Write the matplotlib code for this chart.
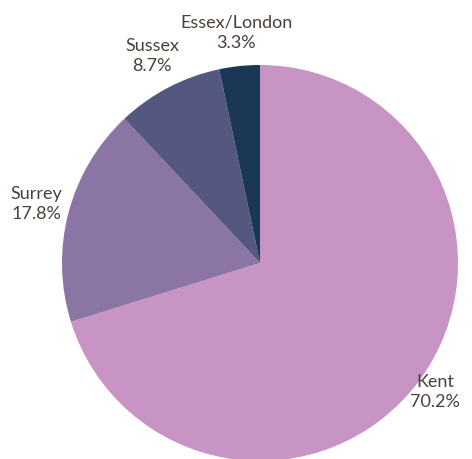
import numpy as np
import matplotlib
matplotlib.use("Agg")
import matplotlib.pyplot as plt

# data
regions = ["Kent", "Surrey", "Sussex", "Essex/London"]
shares = [70.2, 17.8, 8.7, 3.3]
colors = ["#c794c4", "#8a75a4", "#545780", "#1a3756"]
label_dist = [1.10, 1.17, 1.18, 1.17]

fig = plt.figure(figsize=(4.72, 4.59), dpi=100)
ax = fig.add_axes([0, 0, 1, 1])

cx, cy, r = 260, 196, 198
wedges, _ = ax.pie(shares, colors=colors, startangle=90, counterclock=False,
                   center=(cx, cy), radius=r, frame=True,
                   wedgeprops=dict(linewidth=0))
ax.set_xlim(0, 472)
ax.set_ylim(0, 459)
ax.set_aspect("equal")
ax.axis("off")

## labels outside each slice ##
for w, name, val, d in zip(wedges, regions, shares, label_dist):
    ang = np.deg2rad((w.theta1 + w.theta2) / 2)
    x = cx + d * r * np.cos(ang)
    y = cy + d * r * np.sin(ang)
    ax.text(x, y, f"{name}\n{val}%", ha="center", va="center",
            fontsize=13, family="Lato", color="#4a403c", linespacing=1.32)

fig.savefig("out.png", dpi=100)
